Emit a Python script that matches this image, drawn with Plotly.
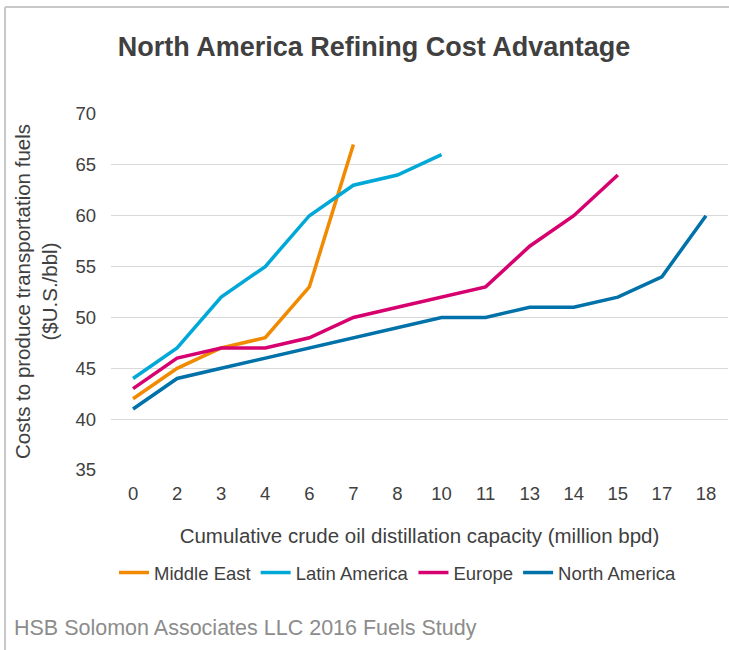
import plotly.graph_objects as go

categories = ["0", "2", "3", "4", "6", "7", "8", "10", "11", "13", "14", "15", "17", "18"]
middle_east = [42, 45, 47, 48, 53, 67]
latin_america = [44, 47, 52, 55, 60, 63, 64, 66]
europe = [43, 46, 47, 47, 48, 50, 51, 52, 53, 57, 60, 64]
north_america = [41, 44, 45, 46, 47, 48, 49, 50, 50, 51, 51, 52, 54, 60]

series = [
    ("Middle East", middle_east, "#F18A00"),
    ("Latin America", latin_america, "#00A8D8"),
    ("Europe", europe, "#D6006F"),
    ("North America", north_america, "#0071A9"),
]

W, H = 729, 650
L, R, T, B = 111, 1, 114, 180
pw = W - L - R
ph = H - T - B

def px_x(p):
    return (p - L) / pw

def px_y(p):
    return (H - B - p) / ph

FONT = "Liberation Sans, Arial, Helvetica, sans-serif"
TXT = "#404040"

fig = go.Figure()
for name, vals, col in series:
    fig.add_trace(go.Scatter(
        x=categories[:len(vals)], y=vals, mode="lines", name=name,
        line=dict(color=col, width=3.5),
    ))

fig.update_layout(
    width=W, height=H,
    margin=dict(l=L, r=R, t=T, b=B),
    paper_bgcolor="white", plot_bgcolor="white",
    font=dict(family=FONT, color=TXT, size=18),
    title=dict(text="<b>North America Refining Cost Advantage</b>",
               font=dict(size=27, color=TXT, family=FONT),
               x=374 / W, xanchor="center", xref="container",
               y=1 - 47 / H, yanchor="middle", yref="container"),
    showlegend=True,
    legend=dict(orientation="h", x=px_x(398), xanchor="center",
                y=px_y(573), yanchor="middle",
                font=dict(size=18.5, color=TXT), itemwidth=30,
                traceorder="normal"),
    xaxis=dict(type="category", categoryorder="array", categoryarray=categories,
               range=[-0.5, len(categories) - 0.5],
               showgrid=False, zeroline=False, showline=False,
               tickfont=dict(size=18.5, color=TXT), ticklabelstandoff=10,
               title=dict(text="Cumulative crude oil distillation capacity (million bpd)",
                          font=dict(size=20.5, color=TXT), standoff=26)),
    yaxis=dict(range=[35, 70], dtick=5, showgrid=True, gridcolor="#d9d9d9", gridwidth=1,
               zeroline=False, showline=False,
               tickfont=dict(size=18.5, color=TXT), ticklabelstandoff=14),
    annotations=[
        dict(text="Costs to produce transportation fuels<br>($U.S./bbl)",
             textangle=-90, xref="paper", yref="paper",
             x=px_x(36), y=px_y(292), xanchor="center", yanchor="middle",
             showarrow=False, font=dict(size=20.5, color=TXT)),
        dict(text="HSB Solomon Associates LLC 2016 Fuels Study",
             xref="paper", yref="paper", x=px_x(12), y=px_y(628),
             xanchor="left", yanchor="middle", showarrow=False,
             font=dict(size=21.5, color="#8c8c8c")),
    ],
    shapes=[
        dict(type="line", xref="paper", yref="paper",
             x0=px_x(5), x1=px_x(729), y0=px_y(7), y1=px_y(7),
             line=dict(color="#c8c8c8", width=2)),
        dict(type="line", xref="paper", yref="paper",
             x0=px_x(5), x1=px_x(5), y0=px_y(7), y1=px_y(650),
             line=dict(color="#c8c8c8", width=2)),
    ],
)

fig.write_html("out.html", config={"displayModeBar": False},
               post_script="document.body.style.margin='0';")
